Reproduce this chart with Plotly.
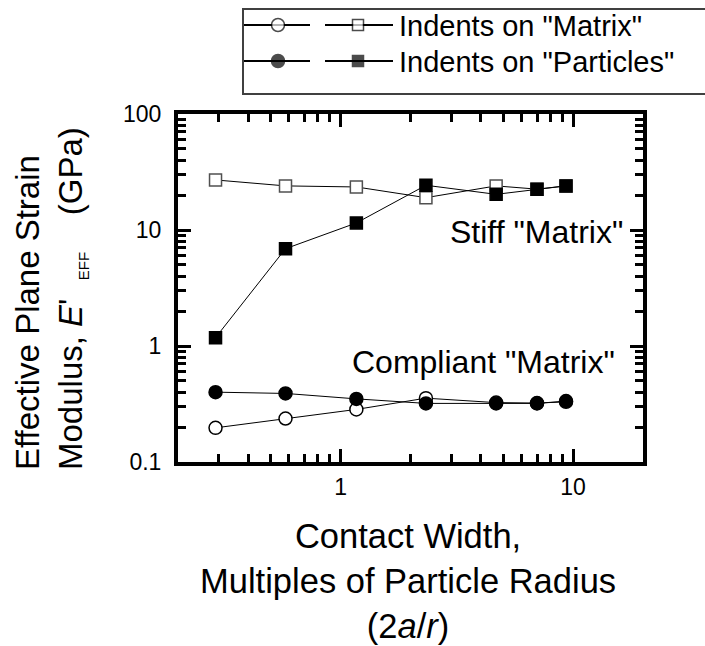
import plotly.graph_objects as go

# Contact width 2a/r (multiples of particle radius)
contact_width = [0.29, 0.58, 1.17, 2.33, 4.67, 7.0, 9.33]

# Effective plane strain modulus E'_EFF (GPa)
stiff_matrix_on_matrix = [27.0, 24.0, 23.5, 19.0, 24.0, 22.5, 24.0]
stiff_matrix_on_particles = [1.18, 6.9, 11.5, 24.3, 20.3, 22.4, 24.0]
compliant_matrix_on_matrix = [0.197, 0.237, 0.284, 0.355, 0.325, 0.322, 0.33]
compliant_matrix_on_particles = [0.40, 0.39, 0.35, 0.32, 0.32, 0.32, 0.335]

legend_labels = ['Indents on "Matrix"', 'Indents on "Particles"']
region_labels = ['Stiff "Matrix"', 'Compliant "Matrix"']
y_tick_vals = [0.1, 1, 10, 100]
y_tick_text = ["0.1", "1", "10", "100"]
x_tick_vals = [1, 10]
x_tick_text = ["1", "10"]

W, H = 705, 646
FONT = "Liberation Sans, Arial, sans-serif"

# plot frame in pixels
PL, PR, PT, PB = 178, 643, 114, 462

fig = go.Figure()

line_style = dict(color="black", width=1)


def series(y, symbol, fill, edge):
    return go.Scatter(
        x=contact_width, y=y, mode="lines+markers",
        line=line_style,
        marker=dict(symbol=symbol, size=12 if "square" in symbol else 13,
                    color=fill, line=dict(color=edge, width=1.5)),
        showlegend=False, cliponaxis=False,
    )


fig.add_trace(series(stiff_matrix_on_matrix, "square", "white", "#505050"))
fig.add_trace(series(compliant_matrix_on_matrix, "circle", "white", "black"))
fig.add_trace(series(stiff_matrix_on_particles, "square", "black", "black"))
fig.add_trace(series(compliant_matrix_on_particles, "circle", "black", "black"))

# key glyphs, drawn in a pixel-space overlay
key_rows = [25, 61]
key_circle_x, key_square_x = 278, 358
fig.add_trace(go.Scatter(
    x=[key_circle_x, key_square_x, key_circle_x, key_square_x],
    y=[key_rows[0], key_rows[0], key_rows[1], key_rows[1]],
    mode="markers", xaxis="x2", yaxis="y2", showlegend=False,
    marker=dict(symbol=["circle", "square", "circle", "square"],
                size=[13, 11, 13, 11],
                color=["white", "white", "black", "black"],
                line=dict(color="black", width=1.5)),
    cliponaxis=False,
))

shapes = [
    dict(type="rect", xref="x2", yref="y2", x0=243, x1=720, y0=9, y1=94,
         line=dict(color="#404040", width=2), layer="below"),
]
for ry in key_rows:
    for x0, x1 in [(244, 310), (325, 393)]:
        shapes.append(dict(type="line", xref="x2", yref="y2", x0=x0, x1=x1,
                           y0=ry, y1=ry, line=dict(color="black", width=2),
                           layer="below"))

annotations = []
for ry, lab in zip(key_rows, legend_labels):
    annotations.append(dict(xref="x2", yref="y2", x=397, y=ry + 1, text=lab,
                            showarrow=False, xanchor="left", yanchor="middle",
                            font=dict(family=FONT, size=29, color="black")))

annotations.append(dict(xref="x2", yref="y2", x=625, y=232, text=region_labels[0],
                        showarrow=False, xanchor="right", yanchor="middle",
                        font=dict(family=FONT, size=32, color="black")))
annotations.append(dict(xref="x2", yref="y2", x=617, y=362, text=region_labels[1],
                        showarrow=False, xanchor="right", yanchor="middle",
                        font=dict(family=FONT, size=32, color="black")))

# axis titles
annotations.append(dict(
    xref="x2", yref="y2", x=408, y=581,
    text="Contact Width,<br>Multiples of Particle Radius<br>(2<i>a</i>/<i>r</i>)",
    showarrow=False, xanchor="center", yanchor="middle",
    font=dict(family=FONT, size=34.5, color="black")))
annotations.append(dict(
    xref="x2", yref="y2", x=50, y=299, textangle=-90, align="left",
    text="Effective Plane Strain<br>Modulus, <i>E</i>'  "
         "<sub><span style='font-size:15px'>EFF</span></sub>    (GPa)",
    showarrow=False, xanchor="center", yanchor="middle",
    font=dict(family=FONT, size=33, color="black")))

axis_common = dict(
    type="log", showgrid=False, zeroline=False,
    showline=True, linecolor="black", linewidth=4, mirror="allticks",
    ticks="inside", ticklen=13, tickwidth=3, tickcolor="black",
    tickfont=dict(family=FONT, size=23, color="black"),
    minor=dict(ticks="inside", ticklen=8, tickwidth=3, tickcolor="black",
               dtick="D1", showgrid=False),
)

fig.update_layout(
    width=W, height=H,
    margin=dict(l=0, r=0, t=0, b=0, autoexpand=False),
    paper_bgcolor="white", plot_bgcolor="rgba(0,0,0,0)",
    showlegend=False,
    xaxis=dict(axis_common, domain=[PL / W, PR / W], range=[-0.699, 1.301],
               tickvals=x_tick_vals, ticktext=x_tick_text, anchor="y",
               ticklabelstandoff=1),
    yaxis=dict(axis_common, domain=[1 - PB / H, 1 - PT / H], range=[-1, 2],
               tickvals=y_tick_vals, ticktext=y_tick_text, anchor="x",
               ticklabelstandoff=8),
    xaxis2=dict(domain=[0, 1], range=[0, W], visible=False, anchor="y2",
                fixedrange=True),
    yaxis2=dict(domain=[0, 1], range=[H, 0], visible=False, anchor="x2",
                fixedrange=True),
    shapes=shapes,
    annotations=annotations,
)

fig.write_html("out.html")
